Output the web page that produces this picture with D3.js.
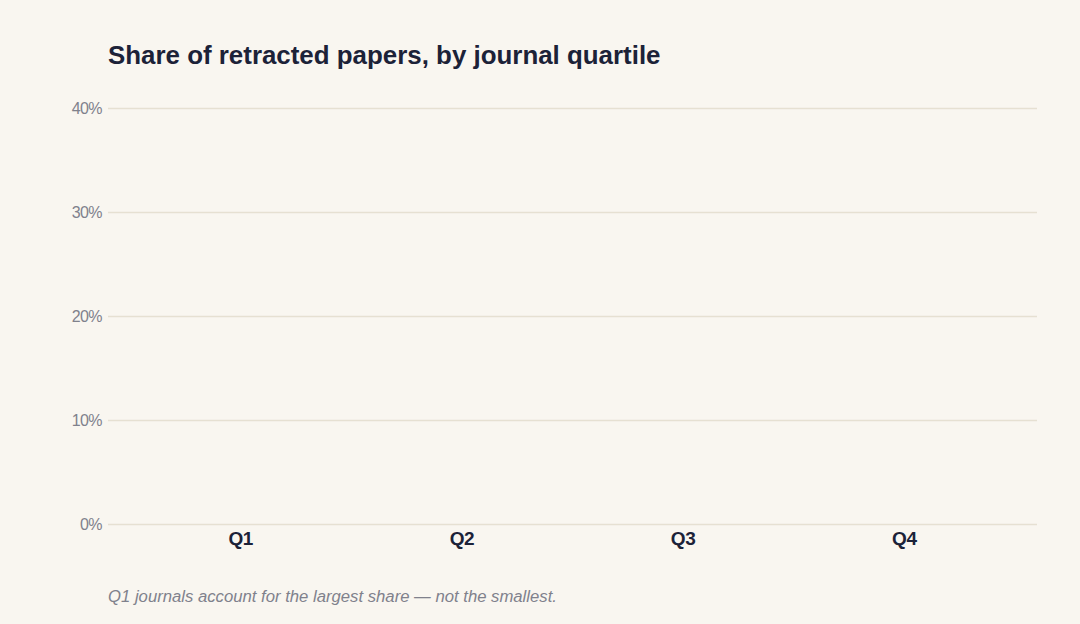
<!DOCTYPE html>
<html><head><meta charset="utf-8">
<script src="https://cdn.jsdelivr.net/npm/d3@7"></script>
<style>
html,body{margin:0;padding:0;background:#f9f6f0;}
svg{display:block;font-family:"Liberation Sans",Arial,sans-serif;}
</style></head>
<body>
<svg id="chart" width="1080" height="624"></svg>
<script>
const categories = ["Q1", "Q2", "Q3", "Q4"];
// No bars are visible in the reference: every bar sits at 0%.
const values = [0, 0, 0, 0];
const yTicks = [0, 0.1, 0.2, 0.3, 0.4];
const title = "Share of retracted papers, by journal quartile";
const caption = "Q1 journals account for the largest share \u2014 not the smallest.";

const svg = d3.select("#chart");
const W = 1080, H = 624;
svg.append("rect").attr("width", W).attr("height", H).attr("fill", "#f9f6f0");

const m = {left: 108, right: 43, top: 108, bottom: 100};
const x = d3.scaleBand().domain(categories).range([m.left, W - m.right]).paddingInner(0.3).paddingOuter(0.25);
const y = d3.scaleLinear().domain([0, 0.4]).range([H - m.bottom, m.top]);

svg.append("text").attr("x", 108).attr("y", 64)
  .attr("font-size", 25.9).attr("font-weight", 700).attr("fill", "#1c2238").text(title);

const yAxis = svg.append("g").attr("transform", `translate(${m.left},0)`)
  .call(d3.axisLeft(y).tickValues(yTicks).tickFormat(d3.format(".0%")).tickSize(-(W - m.left - m.right)).tickPadding(6));
yAxis.select(".domain").remove();
yAxis.selectAll(".tick line").attr("stroke", "#e6e0d2").attr("stroke-width", 1.6);
yAxis.selectAll(".tick text").attr("fill", "#80818c").attr("font-size", 16).attr("letter-spacing", "-0.6px")
  .attr("dy", "0.36em").attr("font-family", "'Liberation Sans', Arial, sans-serif");

svg.append("g").selectAll("rect").data(values).join("rect")
  .attr("x", (d, i) => x(categories[i])).attr("width", x.bandwidth())
  .attr("y", d => y(d)).attr("height", d => y(0) - y(d)).attr("fill", "#1c2238");

const xAxis = svg.append("g").attr("transform", `translate(0,${y(0)})`)
  .call(d3.axisBottom(x).tickSize(0).tickPadding(8));
xAxis.select(".domain").remove();
xAxis.selectAll(".tick text").attr("fill", "#1c2238").attr("font-size", 19).attr("font-weight", 700)
  .attr("letter-spacing", "-0.4px").attr("font-family", "'Liberation Sans', Arial, sans-serif");

svg.append("text").attr("x", 108).attr("y", 602)
  .attr("font-size", 16.7).attr("font-style", "italic").attr("fill", "#80818c").text(caption);
</script>
</body></html>
